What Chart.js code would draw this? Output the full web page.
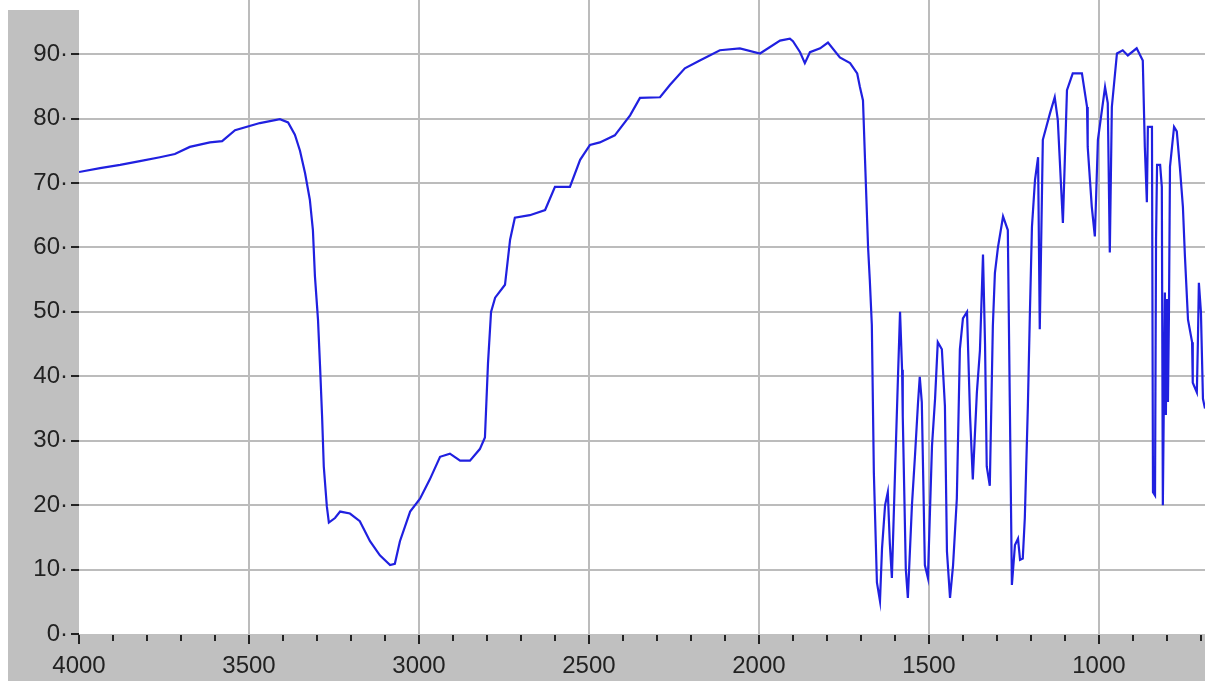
<!DOCTYPE html>
<html>
<head>
<meta charset="utf-8">
<script src="https://cdn.jsdelivr.net/npm/chart.js@4"></script>
<style>
  body { margin: 0; background: #fff; overflow: hidden; }
  #wrap { width: 1205px; height: 681px; position: relative; }
</style>
</head>
<body>
<div id="wrap"><canvas id="irChart"></canvas></div>
<script>
// wavenumber (cm-1)
const wavenumbers = [
  4000, 3938, 3879, 3821, 3762, 3718, 3674, 3615, 3579, 3541, 3468, 3409, 3385, 3365, 3350, 3335,
  3321, 3312, 3306, 3297, 3291, 3285, 3280, 3271, 3265, 3247, 3232, 3203, 3174, 3144, 3115, 3085,
  3071, 3056, 3026, 2997, 2968, 2938, 2909, 2879, 2850, 2821, 2806, 2797, 2788, 2776, 2747, 2732,
  2718, 2674, 2629, 2600, 2556, 2526, 2497, 2468, 2424, 2379, 2350, 2291, 2262, 2218, 2174, 2115,
  2056, 1997, 1938, 1909, 1900, 1879, 1865, 1850, 1820, 1797, 1762, 1732, 1711, 1703, 1694, 1688,
  1679, 1674, 1668, 1662, 1653, 1644, 1638, 1629, 1621, 1615, 1609, 1600, 1591, 1585, 1579, 1577,
  1568, 1562, 1550, 1541, 1532, 1527, 1521, 1512, 1503, 1491, 1482, 1474, 1462, 1453, 1447, 1438,
  1429, 1418, 1409, 1400, 1388, 1379, 1371, 1359, 1350, 1341, 1335, 1330, 1321, 1312, 1306, 1297,
  1282, 1268, 1262, 1256, 1247, 1238, 1232, 1224, 1218, 1209, 1203, 1197, 1188, 1179, 1174, 1165,
  1144, 1130, 1121, 1106, 1094, 1077, 1050, 1035, 1033, 1021, 1012, 1003, 982, 974, 968, 962,
  947, 930, 915, 889, 871, 865, 859, 856, 844, 841, 835, 832, 829, 820, 815, 812,
  806, 803, 800, 797, 794, 791, 779, 771, 762, 753, 747, 738, 726, 724, 712, 709,
  706, 700, 694, 688
];
// transmittance (%)
const transmittance = [
  71.7, 72.3, 72.8, 73.4, 74.0, 74.5, 75.6, 76.3, 76.5, 78.2, 79.3, 79.9, 79.4, 77.5, 75.0, 71.5,
  67.4, 62.7, 55.5, 48.8, 41.6, 33.8, 26.0, 19.8, 17.3, 18.0, 19.0, 18.7, 17.5, 14.4, 12.2, 10.7,
  10.9, 14.4, 19.0, 21.0, 24.0, 27.5, 28.0, 26.9, 26.9, 28.7, 30.5, 42.0, 50.0, 52.2, 54.2, 61.2,
  64.6, 65.0, 65.8, 69.4, 69.4, 73.6, 75.9, 76.3, 77.4, 80.5, 83.2, 83.3, 85.2, 87.8, 89.0, 90.6,
  90.9, 90.1, 92.1, 92.4, 92.0, 90.3, 88.6, 90.3, 90.9, 91.8, 89.5, 88.6, 87.0, 84.9, 82.8, 73.6,
  60.0, 55.0, 48.0, 25.0, 8.0, 5.1, 13.3, 20.0, 22.0, 14.0, 8.7, 24.6, 40.0, 50.0, 41.0, 33.8,
  10.0, 5.6, 20.0, 27.7, 36.0, 39.9, 36.0, 10.7, 8.7, 29.2, 36.5, 45.3, 44.2, 35.4, 12.8, 5.6,
  10.7, 21.0, 44.2, 49.0, 50.0, 33.8, 24.0, 37.5, 44.0, 58.9, 45.0, 26.0, 23.0, 47.8, 56.0, 60.0,
  64.8, 62.7, 35.4, 7.6, 13.8, 14.8, 11.5, 11.7, 18.0, 35.4, 49.9, 63.2, 70.5, 74.0, 47.3, 76.7,
  80.8, 83.3, 79.8, 63.8, 84.4, 87.0, 87.0, 81.8, 75.6, 66.3, 61.7, 76.7, 84.9, 82.4, 59.2, 81.8,
  90.1, 90.6, 89.8, 90.9, 89.0, 75.6, 67.0, 78.7, 78.7, 22.0, 21.5, 61.2, 72.8, 72.8, 69.4, 20.0,
  53.0, 34.0, 52.0, 36.0, 50.0, 72.5, 78.7, 78.0, 72.5, 66.3, 58.6, 48.8, 45.3, 39.0, 37.5, 45.0,
  54.5, 50.0, 36.5, 35.0
];
const xTickLabels = [4000, 3500, 3000, 2500, 2000, 1500, 1000];
const yTickLabels = [0, 10, 20, 30, 40, 50, 60, 70, 80, 90];

const points = wavenumbers.map((w, i) => ({ x: w, y: transmittance[i] }));

// grey frame round the plot + little tick marks under the x axis
const frame = {
  id: 'frame',
  beforeDraw(chart) {
    const c = chart.ctx, a = chart.chartArea;
    c.save();
    c.fillStyle = '#fff';
    c.fillRect(0, 0, chart.width, chart.height);
    c.fillStyle = '#c0c0c0';
    c.fillRect(8, 10, a.left - 8, chart.height - 10);
    c.fillRect(8, a.bottom, chart.width - 8, chart.height - a.bottom);
    c.restore();
  },
  afterDraw(chart) {
    const c = chart.ctx, a = chart.chartArea, xs = chart.scales.x;
    c.save();
    c.strokeStyle = '#222';
    c.lineWidth = 2;
    xs.ticks.forEach(t => {
      const px = Math.round(xs.getPixelForValue(t.value));
      const major = t.value % 500 === 0;
      c.beginPath();
      c.moveTo(px, a.bottom + 1);
      c.lineTo(px, a.bottom + (major ? 10 : 7));
      c.stroke();
    });
    c.restore();
  }
};

const noPad = s => { s.paddingLeft = 0; s.paddingRight = 0; s.paddingTop = 0; s.paddingBottom = 0; };

const ctx = document.getElementById('irChart').getContext('2d');
new Chart(ctx, {
  type: 'line',
  data: {
    datasets: [{
      data: points,
      borderColor: '#2020e0',
      borderWidth: 2.2,
      pointRadius: 0,
      tension: 0,
      fill: false
    }]
  },
  options: {
    responsive: true,
    maintainAspectRatio: false,
    animation: false,
    layout: { padding: 0, autoPadding: false },
    plugins: { legend: { display: false }, tooltip: { enabled: false } },
    scales: {
      x: {
        type: 'linear',
        reverse: true,
        min: 688,
        max: 4000,
        afterFit: s => { s.height = 47; noPad(s); },
        afterBuildTicks: s => {
          const ts = [];
          for (let v = 4000; v >= 700; v -= 100) ts.push({ value: v });
          s.ticks = ts;
        },
        border: { display: false },
        grid: {
          drawTicks: false,
          lineWidth: 2,
          color: c => (c.tick && c.tick.value % 500 === 0 && c.tick.value !== 4000) ? '#bcbcbc' : 'rgba(0,0,0,0)'
        },
        ticks: {
          autoSkip: false,
          maxRotation: 0,
          padding: 18,
          color: '#222',
          font: { family: 'Liberation Sans', size: 24 },
          callback: v => xTickLabels.includes(v) ? String(v) : ''
        }
      },
      y: {
        min: 0,
        max: 98.4,
        afterFit: s => { s.width = 79; noPad(s); },
        afterBuildTicks: s => { s.ticks = yTickLabels.map(v => ({ value: v })); },
        border: { display: false },
        grid: {
          lineWidth: 2,
          color: c => (c.tick && c.tick.value !== 0) ? '#bcbcbc' : 'rgba(0,0,0,0)',
          drawTicks: true,
          tickLength: 8,
          tickColor: '#222',
          tickWidth: 2
        },
        ticks: {
          padding: 3,
          color: '#222',
          font: { family: 'Liberation Sans', size: 24 },
          callback: v => v + '\u00b7'
        }
      }
    }
  },
  plugins: [frame]
});
</script>
</body>
</html>
